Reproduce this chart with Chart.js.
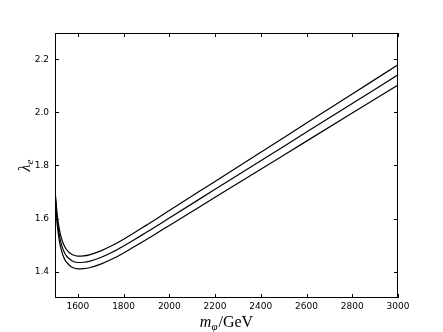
<!DOCTYPE html>
<html>
<head>
<meta charset="utf-8">
<script src="https://cdn.jsdelivr.net/npm/chart.js@4.4.1/dist/chart.umd.min.js"></script>
<style>
  html, body { margin: 0; padding: 0; background: #fff; }
  #chart { display: block; }
</style>
</head>
<body>
<canvas id="chart" width="443" height="332"></canvas>
<script>
// Data
const mass = [1500, 1510, 1520, 1530, 1540, 1550, 1565, 1580, 1600, 1625, 1650, 1700, 1750, 1800, 1850, 1900, 1950, 2000, 2200, 2400, 2600, 2800, 3000];
const lambdaUpper = [1.710, 1.610, 1.555, 1.520, 1.498, 1.483, 1.470, 1.462, 1.458, 1.459, 1.463, 1.478, 1.498, 1.522, 1.548, 1.575, 1.602, 1.630, 1.740, 1.850, 1.960, 2.070, 2.180];
const lambdaMid = [1.700, 1.592, 1.533, 1.497, 1.474, 1.459, 1.446, 1.438, 1.434, 1.435, 1.4385, 1.453, 1.4725, 1.496, 1.5215, 1.548, 1.5745, 1.602, 1.710, 1.818, 1.926, 2.034, 2.142];
const lambdaLower = [1.690, 1.574, 1.511, 1.474, 1.450, 1.435, 1.422, 1.414, 1.410, 1.411, 1.414, 1.428, 1.447, 1.470, 1.495, 1.521, 1.547, 1.574, 1.680, 1.786, 1.892, 1.998, 2.104];

const xTicks = [1600, 1800, 2000, 2200, 2400, 2600, 2800, 3000];
const yTicks = [1.4, 1.6, 1.8, 2.0, 2.2];

const toPoints = ys => ys.map((y, i) => ({ x: mass[i], y: y }));

function line(ys) {
  return {
    data: toPoints(ys),
    borderColor: "#000",
    borderWidth: 1.2,
    pointRadius: 0,
    fill: false,
    cubicInterpolationMode: "monotone"
  };
}

// frame, inward ticks on all sides, axis titles
const mplStyle = {
  id: "mplStyle",
  afterDraw(chart) {
    const { ctx, chartArea: a, scales } = chart;
    const len = 4;
    ctx.save();
    ctx.strokeStyle = "#000";
    ctx.lineWidth = 1;
    ctx.strokeRect(a.left + 0.5, a.top + 0.5, a.right - a.left - 1, a.bottom - a.top - 1);

    ctx.beginPath();
    xTicks.forEach(v => {
      const px = Math.round(scales.x.getPixelForValue(v)) + 0.5;
      ctx.moveTo(px, a.bottom); ctx.lineTo(px, a.bottom - len);
      ctx.moveTo(px, a.top); ctx.lineTo(px, a.top + len);
    });
    yTicks.forEach(v => {
      const py = Math.round(scales.y.getPixelForValue(v)) + 0.5;
      ctx.moveTo(a.left, py); ctx.lineTo(a.left + len, py);
      ctx.moveTo(a.right, py); ctx.lineTo(a.right - len, py);
    });
    ctx.stroke();

    // x title: m_phi/GeV
    ctx.fillStyle = "#000";
    ctx.textBaseline = "alphabetic";
    const big = "16px 'Liberation Serif'";
    const bigIt = "italic 16px 'Liberation Serif'";
    const small = "italic 11px 'Liberation Serif'";
    ctx.font = bigIt; const wm = ctx.measureText("m").width;
    ctx.font = small; const wp = ctx.measureText("φ").width;
    ctx.font = big; const wg = ctx.measureText("/GeV").width;
    let x0 = (a.left + a.right) / 2 - (wm + wp + 1 + wg) / 2;
    const by = 326.5;
    ctx.font = bigIt; ctx.fillText("m", x0, by); x0 += wm;
    ctx.font = small; ctx.fillText("φ", x0, by + 3); x0 += wp + 1;
    ctx.font = big; ctx.fillText("/GeV", x0, by);

    // y title: lambda_e
    ctx.translate(30, (a.top + a.bottom) / 2);
    ctx.rotate(-Math.PI / 2);
    ctx.font = bigIt; const wl = ctx.measureText("λ").width;
    ctx.font = small; const we = ctx.measureText("e").width;
    let lx = -(wl + we) / 2;
    ctx.font = bigIt; ctx.fillText("λ", lx, 0); lx += wl;
    ctx.font = small; ctx.fillText("e", lx, 3);
    ctx.restore();
  }
};

new Chart(document.getElementById("chart"), {
  type: "line",
  data: {
    datasets: [line(lambdaUpper), line(lambdaMid), line(lambdaLower)]
  },
  options: {
    responsive: false,
    animation: false,
    layout: { padding: { top: 33, right: 45, left: 0, bottom: 0 } },
    plugins: { legend: { display: false }, tooltip: { enabled: false } },
    scales: {
      x: {
        type: "linear",
        min: 1500,
        max: 3000,
        afterFit: s => { s.height = 34; },
        afterBuildTicks: s => { s.ticks = xTicks.map(v => ({ value: v })); },
        grid: { display: false, drawTicks: false },
        border: { display: false },
        ticks: {
          color: "#000",
          padding: 3,
          maxRotation: 0,
          font: { family: "DejaVu Sans", size: 9 },
          callback: v => String(v)
        }
      },
      y: {
        type: "linear",
        min: 1.3,
        max: 2.3,
        afterFit: s => { s.width = 55; },
        afterBuildTicks: s => { s.ticks = yTicks.map(v => ({ value: v })); },
        grid: { display: false, drawTicks: false },
        border: { display: false },
        ticks: {
          color: "#000",
          padding: 6,
          font: { family: "DejaVu Sans", size: 9 },
          callback: v => v.toFixed(1)
        }
      }
    }
  },
  plugins: [mplStyle]
});
</script>
</body>
</html>
